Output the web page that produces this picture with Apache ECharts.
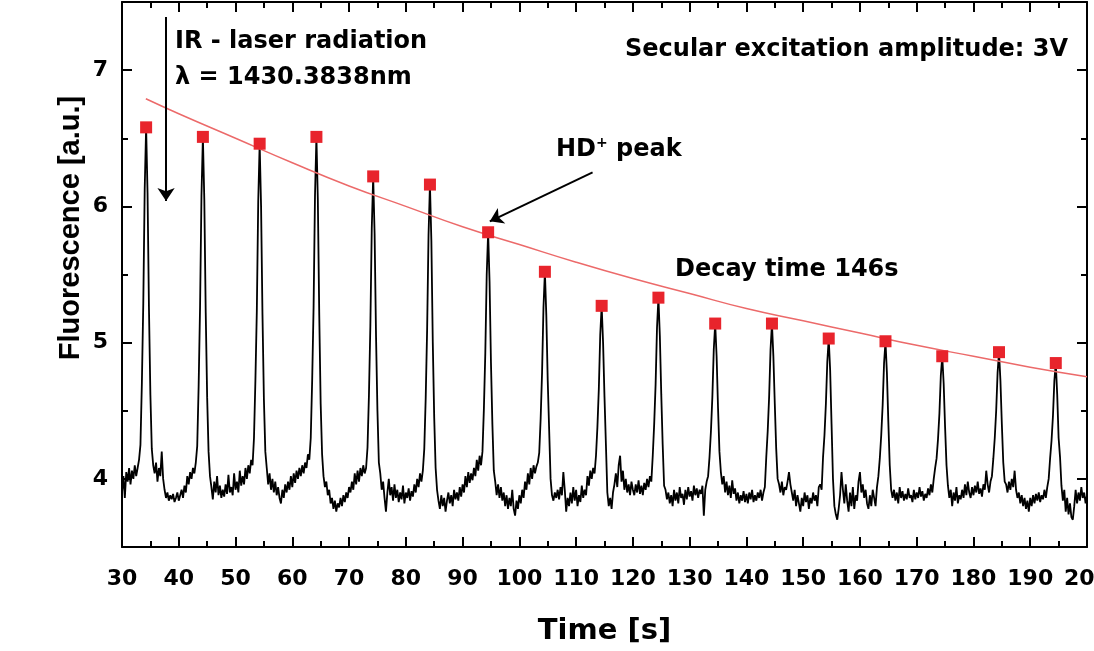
<!DOCTYPE html>
<html>
<head>
<meta charset="utf-8">
<script src="https://cdn.jsdelivr.net/npm/echarts@6/dist/echarts.min.js"></script>
<style>
  html, body { margin: 0; padding: 0; background: #fff; overflow: hidden; }
  #chart { width: 1094px; height: 651px; }
</style>
</head>
<body>
<div id="chart"></div>
<script>
// Fluorescence trace, sampled every 0.25 s from t = 30 s
const timeStart = 30;
const timeStep = 0.25;
const signal = [
  3.90, 4.02, 3.86, 4.05, 3.98, 4.08, 3.96, 4.06, // 30
  4.00, 4.10, 4.02, 4.08, 4.14, 4.25, 4.70, 5.29, // 32
  6.13, 6.58, 6.10, 5.25, 4.62, 4.22, 4.10, 4.04, // 34
  4.12, 3.98, 4.08, 4.02, 4.20, 4.00, 3.92, 3.86, // 36
  3.90, 3.84, 3.88, 3.85, 3.89, 3.83, 3.86, 3.90, // 38
  3.84, 3.88, 3.92, 3.86, 3.95, 3.90, 4.02, 3.96, // 40
  4.05, 4.00, 4.08, 4.04, 4.12, 4.24, 4.68, 5.26, // 42
  6.08, 6.51, 6.05, 5.22, 4.60, 4.20, 4.02, 3.94, // 44
  3.85, 3.98, 3.90, 4.02, 3.88, 3.95, 3.86, 3.92, // 46
  3.87, 3.96, 3.89, 4.03, 3.90, 3.94, 3.88, 4.04, // 48
  3.92, 3.98, 3.90, 4.06, 3.95, 4.02, 3.96, 4.08, // 50
  4.00, 4.10, 4.04, 4.14, 4.10, 4.30, 4.72, 5.23, // 52
  6.04, 6.46, 6.00, 5.20, 4.58, 4.20, 4.08, 3.96, // 54
  4.04, 3.92, 4.00, 3.90, 3.98, 3.88, 3.94, 3.86, // 56
  3.82, 3.92, 3.86, 3.96, 3.90, 3.98, 3.92, 4.02, // 58
  3.94, 4.04, 3.97, 4.06, 4.00, 4.08, 4.02, 4.10, // 60
  4.04, 4.12, 4.08, 4.18, 4.14, 4.30, 4.72, 5.26, // 62
  6.08, 6.51, 6.05, 5.20, 4.55, 4.18, 4.02, 3.94, // 64
  3.98, 3.88, 3.92, 3.82, 3.86, 3.78, 3.84, 3.76, // 66
  3.82, 3.79, 3.86, 3.80, 3.88, 3.83, 3.90, 3.86, // 68
  3.94, 3.90, 3.98, 3.92, 4.04, 3.96, 4.06, 3.98, // 70
  4.08, 4.02, 4.10, 4.04, 4.08, 4.23, 4.61, 5.12, // 72
  5.84, 6.22, 5.80, 5.05, 4.50, 4.12, 4.04, 3.92, // 74
  3.98, 3.86, 3.76, 3.90, 4.00, 3.88, 3.94, 3.84, // 76
  3.96, 3.86, 3.92, 3.83, 3.90, 3.85, 3.95, 3.82, // 78
  3.90, 3.86, 3.93, 3.84, 3.91, 3.87, 3.96, 3.90, // 80
  4.00, 3.94, 4.04, 3.98, 4.06, 4.22, 4.59, 5.09, // 82
  5.79, 6.16, 5.75, 5.00, 4.45, 4.08, 3.92, 3.84, // 84
  3.78, 3.88, 3.80, 3.86, 3.76, 3.84, 3.90, 3.82, // 86
  3.88, 3.80, 3.92, 3.85, 3.90, 3.84, 3.94, 3.87, // 88
  3.96, 3.90, 4.02, 3.94, 4.05, 3.97, 4.04, 3.99, // 90
  4.08, 4.02, 4.14, 4.06, 4.17, 4.10, 4.20, 4.51, // 92
  4.92, 5.50, 5.81, 5.45, 4.85, 4.40, 4.06, 3.98, // 94
  3.88, 3.96, 3.86, 3.94, 3.84, 3.90, 3.80, 3.88, // 96
  3.78, 3.86, 3.80, 3.92, 3.78, 3.73, 3.84, 3.78, // 98
  3.88, 3.82, 3.92, 3.86, 3.98, 3.92, 4.04, 3.96, // 100
  4.08, 4.00, 4.10, 4.04, 4.09, 4.12, 4.19, 4.44, // 102
  4.78, 5.26, 5.52, 5.20, 4.72, 4.36, 4.00, 3.88, // 104
  3.84, 3.90, 3.86, 3.92, 3.85, 3.94, 3.88, 4.05, // 106
  3.92, 3.76, 3.86, 3.80, 3.90, 3.82, 3.94, 3.84, // 108
  3.92, 3.80, 3.88, 3.83, 3.95, 3.86, 3.92, 3.88, // 110
  4.02, 3.95, 4.06, 4.00, 4.08, 4.04, 4.17, 4.38, // 112
  4.66, 5.06, 5.27, 5.00, 4.60, 4.25, 3.90, 3.80, // 114
  3.86, 3.78, 3.90, 3.96, 4.04, 3.94, 4.10, 4.17, // 116
  3.98, 4.06, 3.92, 4.00, 3.90, 3.96, 3.88, 3.98, // 118
  3.92, 3.88, 3.96, 3.90, 3.99, 3.89, 3.95, 3.88, // 120
  3.97, 3.92, 4.00, 3.94, 4.02, 3.98, 4.17, 4.40, // 122
  4.69, 5.11, 5.33, 5.05, 4.62, 4.25, 3.95, 3.92, // 124
  3.85, 3.90, 3.82, 3.88, 3.80, 3.92, 3.84, 3.90, // 126
  3.82, 3.94, 3.86, 3.89, 3.81, 3.92, 3.85, 3.94, // 128
  3.87, 3.91, 3.84, 3.95, 3.88, 3.93, 3.86, 3.92, // 130
  3.89, 3.95, 3.73, 3.92, 3.98, 4.02, 4.16, 4.35, // 132
  4.60, 4.95, 5.14, 4.90, 4.52, 4.20, 4.05, 3.96, // 134
  4.02, 3.90, 3.98, 3.88, 3.95, 3.86, 3.99, 3.89, // 136
  3.93, 3.84, 3.90, 3.82, 3.88, 3.84, 3.91, 3.83, // 138
  3.89, 3.82, 3.90, 3.85, 3.92, 3.83, 3.88, 3.84, // 140
  3.90, 3.86, 3.92, 3.84, 3.90, 3.94, 4.16, 4.35, // 142
  4.60, 4.95, 5.14, 4.90, 4.55, 4.22, 4.00, 3.96, // 144
  3.90, 3.98, 3.88, 3.94, 3.92, 3.98, 4.05, 3.96, // 146
  3.90, 3.84, 3.92, 3.80, 3.88, 3.82, 3.76, 3.86, // 148
  3.80, 3.90, 3.83, 3.88, 3.78, 3.86, 3.82, 3.90, // 150
  3.84, 3.88, 3.80, 3.94, 3.96, 3.92, 4.16, 4.32, // 152
  4.55, 4.86, 5.03, 4.80, 4.40, 4.00, 3.80, 3.74, // 154
  3.70, 3.78, 3.88, 4.05, 3.92, 3.82, 3.96, 3.84, // 156
  3.76, 3.90, 3.80, 3.94, 3.78, 3.88, 3.84, 3.98, // 158
  4.05, 3.90, 3.96, 3.86, 3.92, 3.82, 3.78, 3.88, // 160
  3.80, 3.92, 3.86, 3.80, 3.94, 4.02, 4.15, 4.32, // 162
  4.54, 4.85, 5.01, 4.78, 4.42, 4.10, 3.92, 3.86, // 164
  3.92, 3.84, 3.90, 3.82, 3.94, 3.86, 3.91, 3.84, // 166
  3.89, 3.85, 3.93, 3.86, 3.88, 3.83, 3.92, 3.85, // 168
  3.90, 3.86, 3.94, 3.87, 3.91, 3.84, 3.89, 3.86, // 170
  3.93, 3.88, 3.96, 3.90, 4.00, 4.08, 4.15, 4.29, // 172
  4.48, 4.76, 4.90, 4.70, 4.38, 4.10, 3.95, 3.86, // 174
  3.92, 3.80, 3.90, 3.84, 3.94, 3.82, 3.88, 3.85, // 176
  3.92, 3.86, 3.96, 3.88, 3.98, 3.90, 3.86, 3.94, // 178
  3.88, 3.95, 3.90, 3.98, 3.89, 3.93, 3.87, 3.96, // 180
  3.92, 4.06, 3.96, 3.90, 3.98, 4.02, 4.15, 4.30, // 182
  4.50, 4.78, 4.93, 4.72, 4.40, 4.12, 3.98, 3.96, // 184
  3.90, 3.98, 3.92, 4.00, 3.94, 4.06, 3.92, 3.86, // 186
  3.90, 3.82, 3.88, 3.80, 3.86, 3.78, 3.84, 3.76, // 188
  3.86, 3.80, 3.88, 3.82, 3.89, 3.84, 3.90, 3.83, // 190
  3.88, 3.85, 3.92, 3.86, 3.94, 4.00, 4.15, 4.28, // 192
  4.46, 4.72, 4.85, 4.62, 4.30, 4.16, 3.95, 3.84, // 194
  3.92, 3.76, 3.86, 3.74, 3.82, 3.72, 3.70, 3.80, // 196
  3.92, 3.82, 3.90, 3.84, 3.94, 3.86, 3.90, 3.82, // 198
  3.88                                            // 200
];

// HD+ peak maxima (red squares)
const peakTimes = [34.25, 44.25, 54.25, 64.25, 74.25, 84.25, 94.5, 104.5, 114.5,
                   124.5, 134.5, 144.5, 154.5, 164.5, 174.5, 184.5, 194.5];
const peakValues = [6.58, 6.51, 6.46, 6.51, 6.22, 6.16, 5.81, 5.52, 5.27,
                    5.33, 5.14, 5.14, 5.03, 5.01, 4.90, 4.93, 4.85];

// Exponential decay fit (146 s)
const fitTimes = [34.2, 40, 50, 60, 70, 80, 90, 100, 110, 120, 130, 140, 150, 160, 170, 180, 190, 200];
const fitValues = [6.79, 6.68, 6.50, 6.32, 6.15, 6.00, 5.85, 5.72, 5.59, 5.47, 5.36, 5.25, 5.16, 5.07, 4.98, 4.90, 4.82, 4.75];

// Axis ticks
const yMajorTicks = [4, 5, 6, 7];
const yMinorTicks = [4.5, 5.5, 6.5];

const traceData = signal.map((v, i) => [timeStart + i * timeStep, v]);
const peakData = peakTimes.map((t, i) => [t, peakValues[i]]);
const fitData = fitTimes.map((t, i) => [t, fitValues[i]]);

const BLACK = '#000';
const labelFont = { fontFamily: 'DejaVu Sans', fontWeight: 'bold', color: BLACK };
const frameLine = { show: true, onZero: false, lineStyle: { color: BLACK, width: 2 } };

function xAxisDef(position, withLabels) {
  return {
    type: 'value', position, min: 30, max: 200, interval: 10,
    axisLine: frameLine,
    axisTick: { show: true, inside: true, length: 10, lineStyle: { color: BLACK, width: 2 } },
    minorTick: { show: true, splitNumber: 2, length: 6, lineStyle: { color: BLACK, width: 2 } },
    splitLine: { show: false }, minorSplitLine: { show: false },
    axisLabel: withLabels
      ? Object.assign({ show: true, fontSize: 22, margin: 21 }, labelFont)
      : { show: false },
    name: withLabels ? 'Time [s]' : '',
    nameLocation: 'middle', nameGap: 70,
    nameTextStyle: { fontFamily: 'DejaVu Sans', fontWeight: 'bold', fontSize: 29, color: BLACK }
  };
}

function yAxisDef(position, ticks, len, withLine, withLabels) {
  return {
    type: 'value', position, min: 3.5, max: 7.5, offset: 0,
    axisLine: withLine ? frameLine : { show: false },
    axisTick: { show: true, inside: true, length: len, customValues: ticks,
                lineStyle: { color: BLACK, width: 2 } },
    splitLine: { show: false },
    axisLabel: withLabels
      ? Object.assign({ show: true, fontSize: 22, margin: 14, customValues: ticks }, labelFont)
      : { show: false }
  };
}

const annotFont = 'bold 24px "DejaVu Sans"';
function note(x, y, text) {
  return { type: 'text', x, y, z: 100,
           style: { text, font: annotFont, fill: BLACK, verticalAlign: 'middle' } };
}

const chart = echarts.init(document.getElementById('chart'), null, { renderer: 'canvas' });
chart.setOption({
  animation: false,
  backgroundColor: '#fff',
  grid: { left: 122, right: 7, top: 2, bottom: 104, containLabel: false, outerBoundsMode: 'none' },
  xAxis: [xAxisDef('bottom', true), xAxisDef('top', false)],
  yAxis: [
    yAxisDef('left', yMajorTicks, 10, true, true),
    yAxisDef('right', yMajorTicks, 10, true, false),
    yAxisDef('left', yMinorTicks, 6, false, false),
    yAxisDef('right', yMinorTicks, 6, false, false)
  ],
  series: [
    {
      type: 'line', data: traceData, xAxisIndex: 0, yAxisIndex: 0,
      showSymbol: false, symbol: 'none', sampling: null,
      lineStyle: { color: BLACK, width: 1.8 }, z: 2,
      markLine: {
        silent: true, symbol: ['none', 'arrow'], symbolSize: 13,
        label: { show: false },
        lineStyle: { color: BLACK, width: 2, type: 'solid' },
        data: [
          [{ coord: [37.76, 7.39] }, { coord: [37.76, 6.04] }],
          [{ coord: [112.9, 6.25] }, { coord: [94.8, 5.89] }]
        ]
      }
    },
    {
      type: 'line', data: fitData, xAxisIndex: 0, yAxisIndex: 0,
      smooth: true, showSymbol: false, symbol: 'none',
      lineStyle: { color: '#ec6a6a', width: 1.5 }, z: 3
    },
    {
      type: 'scatter', data: peakData, xAxisIndex: 0, yAxisIndex: 0,
      symbol: 'rect', symbolSize: 12,
      itemStyle: { color: '#e8242c', opacity: 1 }, z: 4
    }
  ],
  graphic: [
    {
      type: 'text', x: 71, y: 228, rotation: Math.PI / 2, z: 100,
      style: {
        text: 'Fluorescence [a.u.]', font: 'bold 29px "Liberation Sans"', fill: BLACK,
        align: 'center', verticalAlign: 'middle'
      }
    },
    note(175, 42, 'IR - laser radiation'),
    note(175, 78, 'λ = 1430.3838nm'),
    note(625, 50, 'Secular excitation amplitude: 3V'),
    note(675, 270, 'Decay time 146s'),
    {
      type: 'text', x: 556, y: 150, z: 100,
      style: {
        text: '{a|HD}{s|+}{a| peak}', verticalAlign: 'middle', fill: BLACK,
        rich: {
          a: { font: annotFont, fill: BLACK, lineHeight: 28 },
          s: { font: 'bold 14px "DejaVu Sans"', fill: BLACK, verticalAlign: 'top', lineHeight: 14 }
        }
      }
    }
  ]
});
</script>
</body>
</html>
